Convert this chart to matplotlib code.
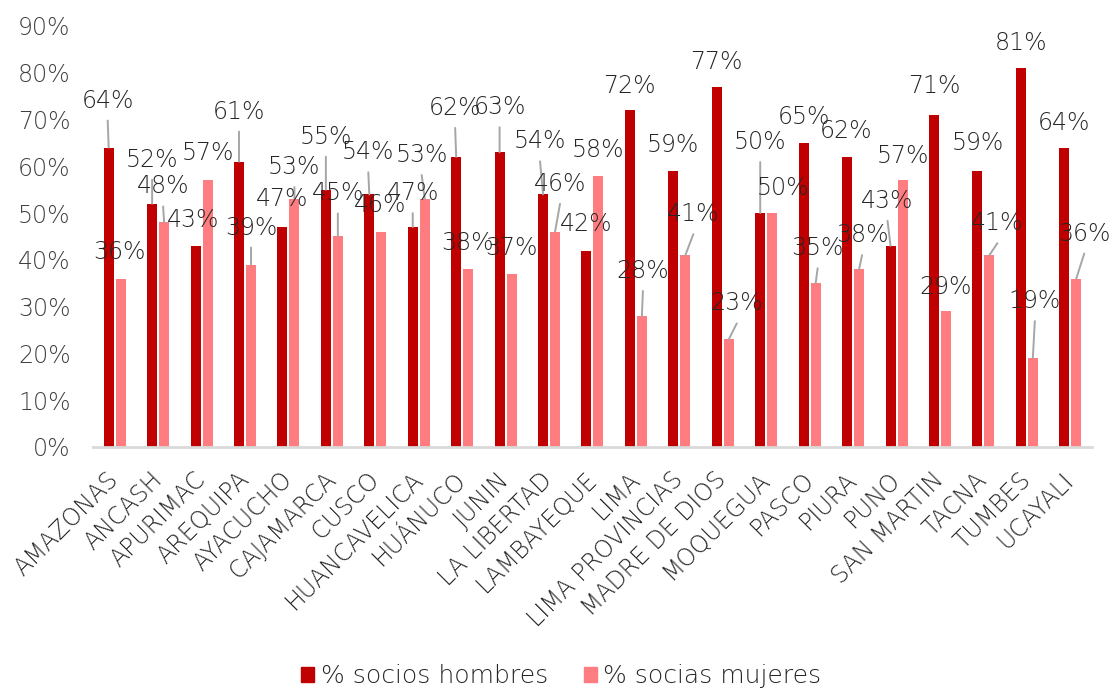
import matplotlib.pyplot as plt
from matplotlib.patches import Patch
from matplotlib.ticker import FuncFormatter

plt.rcParams['font.family'] = ['DejaVu Sans']
plt.rcParams['font.weight'] = 200

regiones = ['AMAZONAS', 'ANCASH', 'APURIMAC', 'AREQUIPA', 'AYACUCHO', 'CAJAMARCA',
            'CUSCO', 'HUANCAVELICA', 'HUÁNUCO', 'JUNIN', 'LA LIBERTAD', 'LAMBAYEQUE',
            'LIMA', 'LIMA PROVINCIAS', 'MADRE DE DIOS', 'MOQUEGUA', 'PASCO', 'PIURA',
            'PUNO', 'SAN MARTIN', 'TACNA', 'TUMBES', 'UCAYALI']
hombres = [64, 52, 43, 61, 47, 55, 54, 47, 62, 63, 54, 42, 72, 59, 77, 50, 65, 62,
           43, 71, 59, 81, 64]
mujeres = [36, 48, 57, 39, 53, 45, 46, 53, 38, 37, 46, 58, 28, 41, 23, 50, 35, 38,
           57, 29, 41, 19, 36]

# desplazamiento de cada etiqueta respecto a la punta de su barra (pixeles)
off_h = [(-1, 47), (0, 44), (-2, 26), (0, 50), (0, 28), (0, 53), (-1, 42), (0, 34),
         (-1, 49), (0, 45), (-3, 53), (0, 27), (0, 24), (0, 26), (0, 25), (0, 71),
         (0, 26), (-1, 26), (-3, 45), (0, 29), (0, 28), (0, 25), (0, 25)]
off_m = [(-1, 27), (-1, 36), (0, 27), (0, 37), (0, 32), (0, 43), (-1, 27), (-3, 44),
         (-1, 26), (0, 26), (5, 48), (0, 26), (1, 45), (8, 41), (8, 36), (11, 25),
         (2, 35), (3, 34), (0, 24), (0, 24), (8, 32), (2, 57), (8, 45)]

c_h = '#C00000'
c_m = '#FF7C80'
c_txt = '#262626'
c_lead = '#A6A6A6'
fs = 17

fig = plt.figure(figsize=(11.12, 6.88), dpi=100)
ax = fig.add_axes([0.0836, 0.3503, 0.8984, 0.612])

x = list(range(len(regiones)))
w = 0.23
d = 0.138
xh = [i - d for i in x]
xm = [i + d for i in x]
ax.bar(xh, [v / 100 for v in hombres], width=w, color=c_h, zorder=2)
ax.bar(xm, [v / 100 for v in mujeres], width=w, color=c_m, zorder=2)


def etiquetas(xs, vals, offs):
    for xi, v, (dx, dy) in zip(xs, vals, offs):
        if dy > 30:
            ax.annotate('', xy=(xi, v / 100), xytext=(dx, dy - 20),
                        textcoords='offset pixels',
                        arrowprops=dict(arrowstyle='-', color=c_lead, lw=1.4,
                                        shrinkA=0, shrinkB=0), zorder=3)
        ax.annotate(f'{v}%', xy=(xi, v / 100), xytext=(dx, dy),
                    textcoords='offset pixels', ha='center', va='center',
                    fontsize=fs, color=c_txt, zorder=4)


etiquetas(xh, hombres, off_h)
etiquetas(xm, mujeres, off_m)

ax.set_xlim(-0.5, len(regiones) - 0.5)
ax.set_ylim(0, 0.9)
ax.set_yticks([i / 10 for i in range(10)])
ax.yaxis.set_major_formatter(FuncFormatter(lambda v, p: f'{v * 100:.0f}%'))
ax.set_xticks(x)
ax.set_xticklabels(regiones, rotation=45, ha='right', va='center',
                   rotation_mode='anchor')
ax.tick_params(axis='y', length=0, pad=16, labelsize=fs, labelcolor='#404040')
ax.tick_params(axis='x', length=0, pad=21, labelsize=fs, labelcolor=c_txt)

for s in ['top', 'right', 'left']:
    ax.spines[s].set_visible(False)
ax.spines['bottom'].set_color('#D9D9D9')
ax.spines['bottom'].set_linewidth(2)

handles = [Patch(color=c_h, label='% socios hombres'),
           Patch(color=c_m, label='% socias mujeres')]
fig.legend(handles=handles, loc='center', bbox_to_anchor=(0.505, 0.017), ncol=2,
           frameon=False, fontsize=18, labelcolor=c_txt, handlelength=0.52,
           handleheight=0.6, handletextpad=0.25, columnspacing=1.45,
           borderpad=0)

fig.savefig('out.png', dpi=100)
